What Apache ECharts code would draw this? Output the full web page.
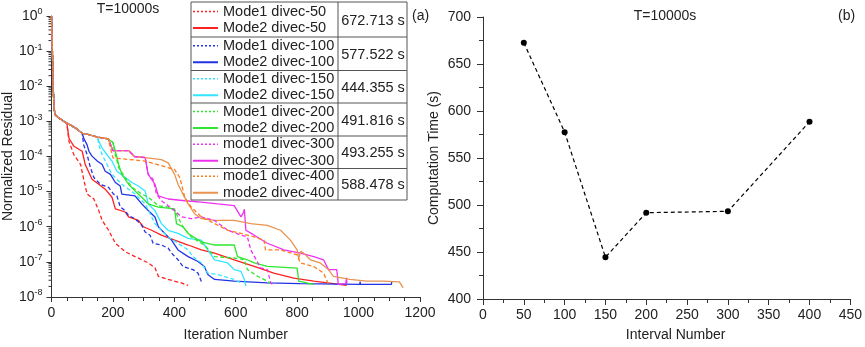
<!DOCTYPE html>
<html>
<head>
<meta charset="utf-8">
<script src="https://cdn.jsdelivr.net/npm/echarts@6/dist/echarts.min.js"></script>
<style>
html, body { margin: 0; padding: 0; background: #fff; }
#main { width: 865px; height: 347px; }
</style>
</head>
<body>
<div id="main"></div>
<script>
// residual curves, points are [iteration, log10(normalized residual)]
var head = [[0,0],[2,-0.6],[4,-1.4],[6,-2.1],[8,-2.55],[11,-2.8],[20,-2.88],[35,-2.97],[50,-3.05]];
var mid100 = [[65,-3.12],[80,-3.2],[100,-3.34]];
var mid150 = [[115,-3.36],[130,-3.4],[150,-3.45]];
var mid200 = [[165,-3.47],[185,-3.5]];
var mid300 = [[200,-3.83],[251,-3.83],[270,-4.0],[305,-4.03]];

var m1_50 = [[57,-3.57],[73,-3.95],[95,-4.23],[105,-4.65],[116,-5.07],[138,-5.21],[154,-5.54],[165,-5.82],[186,-6.1],[208,-6.47],[240,-6.71],[272,-6.85],[294,-6.94],[315,-7.03],[337,-7.17],[348,-7.41],[380,-7.5],[423,-7.6],[445,-7.67]];
var m2_50 = [[57,-3.48],[73,-3.71],[100,-3.85],[110,-4.23],[132,-4.65],[154,-4.79],[175,-4.93],[197,-5.16],[208,-5.49],[240,-5.58],[251,-5.72],[283,-5.82],[299,-6.0],[326,-6.1],[358,-6.24],[401,-6.38],[445,-6.52],[488,-6.66],[531,-6.75],[595,-6.94],[660,-7.13],[724,-7.32],[789,-7.46],[854,-7.55],[918,-7.62],[961,-7.67]];
var m1_100 = [[105,-3.67],[116,-3.95],[127,-4.32],[138,-4.6],[159,-4.79],[186,-4.88],[202,-5.07],[213,-5.12],[224,-5.44],[240,-5.54],[251,-5.68],[272,-5.77],[294,-5.96],[305,-6.15],[321,-6.24],[331,-6.47],[358,-6.52],[380,-6.61],[391,-6.75],[412,-6.94],[428,-7.13],[461,-7.22],[477,-7.32],[490,-7.6]];
var m2_100 = [[105,-3.48],[116,-3.67],[122,-3.85],[132,-3.99],[149,-4.13],[165,-4.23],[175,-4.42],[192,-4.51],[208,-4.74],[224,-4.84],[229,-5.07],[272,-5.12],[294,-5.35],[315,-5.54],[337,-5.72],[348,-6.0],[369,-6.19],[391,-6.38],[412,-6.66],[445,-6.85],[477,-6.99],[498,-7.13],[509,-7.36],[531,-7.5],[595,-7.55],[703,-7.6],[810,-7.62],[1004,-7.64],[1005,-7.56],[1006,-7.64],[1107,-7.64],[1108,-7.55]];
var m1_150 = [[154,-3.67],[165,-3.95],[181,-4.23],[197,-4.51],[213,-4.65],[229,-4.79],[251,-4.93],[272,-5.07],[305,-5.35],[321,-5.63],[337,-5.91],[358,-6.1],[380,-6.29],[412,-6.47],[445,-6.66],[461,-6.85],[488,-7.03],[509,-7.32],[541,-7.36],[595,-7.5],[617,-7.6]];
var m2_150 = [[154,-3.57],[165,-3.76],[181,-3.95],[197,-4.13],[213,-4.42],[240,-4.6],[262,-4.74],[283,-4.84],[305,-4.98],[315,-5.35],[337,-5.54],[358,-5.91],[380,-6.1],[412,-6.19],[445,-6.33],[488,-6.38],[509,-6.66],[531,-6.94],[574,-7.03],[595,-7.22],[617,-7.27],[628,-7.5],[633,-7.69]];
var m1_200 = [[200,-3.6],[208,-3.95],[219,-4.32],[240,-4.6],[262,-4.88],[294,-5.07],[315,-5.16],[348,-5.4],[380,-5.44],[401,-5.54],[412,-5.72],[428,-6.0],[455,-6.29],[498,-6.52],[531,-6.85],[595,-6.89],[628,-6.94],[638,-7.22],[671,-7.41],[703,-7.55],[714,-7.62]];
var m2_200 = [[200,-3.6],[208,-3.85],[219,-4.23],[229,-4.51],[251,-4.79],[272,-4.98],[294,-5.16],[315,-5.35],[348,-5.44],[401,-5.49],[407,-5.91],[428,-6.0],[445,-6.19],[488,-6.43],[531,-6.52],[595,-6.52],[606,-6.85],[638,-6.94],[660,-7.03],[703,-7.13],[800,-7.18],[805,-7.55],[854,-7.64]];
var m1_300 = [[315,-4.51],[331,-4.65],[342,-5.07],[358,-5.26],[380,-5.4],[401,-5.54],[423,-5.72],[455,-5.77],[488,-5.72],[531,-5.82],[574,-6.1],[617,-6.24],[638,-6.29],[649,-6.66],[681,-7.17],[703,-7.22],[714,-7.6],[720,-7.64]];
var m2_300 = [[315,-4.51],[337,-4.79],[348,-5.12],[380,-5.21],[434,-5.26],[488,-5.3],[541,-5.35],[595,-5.4],[617,-5.72],[625,-5.6],[628,-5.5],[633,-6.1],[660,-6.24],[703,-6.47],[757,-6.66],[810,-6.75],[854,-6.85],[886,-6.94],[902,-7.22],[929,-7.22],[934,-7.64],[958,-7.62],[961,-7.45],[962,-7.62]];
var m1_400 = [[200,-4.04],[305,-4.13],[401,-4.37],[418,-4.6],[434,-5.16],[455,-5.44],[488,-5.72],[531,-5.91],[574,-6.1],[617,-6.19],[660,-6.29],[692,-6.38],[697,-6.66],[746,-6.66],[800,-6.8],[810,-7.03],[854,-7.13],[886,-7.32],[902,-7.64]];
var m2_400 = [[358,-4.09],[380,-4.18],[401,-4.51],[412,-4.79],[428,-5.07],[445,-5.35],[466,-5.63],[488,-5.77],[531,-5.82],[595,-5.82],[649,-5.91],[703,-5.96],[746,-6.1],[778,-6.38],[800,-6.66],[805,-6.9],[812,-6.7],[821,-6.75],[843,-6.94],[875,-7.03],[902,-7.22],[918,-7.41],[972,-7.5],[1026,-7.55],[1080,-7.55],[1133,-7.57],[1145,-7.74]];

// panel (b)
var intervals = [50, 100, 150, 200, 300, 400];
var compTime = [672.713, 577.522, 444.355, 491.816, 493.255, 588.478];

var FONT = 'Liberation Sans';
var colors = ['#ff2020', '#2233e6', '#33e6ff', '#2ee62e', '#f030f0', '#ff7a1a'];
var solidOrange = '#e89450';

var curves = [
    {name: 'Mode1 divec-50',  pts: head.concat(m1_50), c: colors[0], dash: true},
    {name: 'Mode2 divec-50',  pts: head.concat(m2_50), c: colors[0]},
    {name: 'Mode1 divec-100', pts: head.concat(mid100, m1_100), c: colors[1], dash: true},
    {name: 'Mode2 divec-100', pts: head.concat(mid100, m2_100), c: colors[1]},
    {name: 'Mode1 divec-150', pts: head.concat(mid100, mid150, m1_150), c: colors[2], dash: true},
    {name: 'Mode2 divec-150', pts: head.concat(mid100, mid150, m2_150), c: colors[2]},
    {name: 'Mode1 divec-200', pts: head.concat(mid100, mid150, mid200, m1_200), c: colors[3], dash: true},
    {name: 'mode2 divec-200', pts: head.concat(mid100, mid150, mid200, m2_200), c: colors[3]},
    {name: 'mode1 divec-300', pts: head.concat(mid100, mid150, mid200, mid300, m1_300), c: colors[4], dash: true},
    {name: 'mode2 divec-300', pts: head.concat(mid100, mid150, mid200, mid300, m2_300), c: colors[4]},
    {name: 'mode1 divec-400', pts: head.concat(mid100, mid150, mid200, m1_400), c: colors[5], dash: true},
    {name: 'mode2 divec-400', pts: head.concat(mid100, mid150, mid200, mid300, m2_400), c: solidOrange}
];

var series = curves.map(function (cv) {
    return {
        name: cv.name,
        type: 'line',
        xAxisIndex: 0,
        yAxisIndex: 0,
        showSymbol: false,
        z: cv.dash ? 3 : 2,
        lineStyle: {color: cv.c, width: 1.3, type: cv.dash ? [4, 2.5] : 'solid'},
        data: cv.pts.map(function (p) { return [p[0], Math.pow(10, p[1])]; })
    };
});
series.push({
    name: 'time',
    type: 'line',
    xAxisIndex: 1,
    yAxisIndex: 1,
    symbol: 'circle',
    symbolSize: 6,
    itemStyle: {color: '#000'},
    lineStyle: {color: '#000', width: 1.2, type: [4, 3]},
    data: intervals.map(function (x, i) { return [x, compTime[i]]; })
});

// legend table drawn as graphic
var boxL = 191, boxR = 407, boxDiv = 338;
var rowEdges = [2, 37, 70.5, 103, 136, 168.5, 200];
var graphics = [{
    type: 'rect', z: 100,
    shape: {x: boxL, y: rowEdges[0], width: boxR - boxL, height: rowEdges[6] - rowEdges[0]},
    style: {fill: '#fff', stroke: '#555', lineWidth: 1}
}, {
    type: 'line', z: 101,
    shape: {x1: boxDiv, y1: rowEdges[0], x2: boxDiv, y2: rowEdges[6]},
    style: {stroke: '#555', lineWidth: 1}
}];
rowEdges.slice(0, 6).forEach(function (rTop, g) {
    var rMid = (rTop + rowEdges[g + 1]) / 2;
    if (g > 0) {
        graphics.push({type: 'line', z: 101,
            shape: {x1: boxL, y1: rTop, x2: boxR, y2: rTop},
            style: {stroke: '#555', lineWidth: 1}});
    }
    [0, 1].forEach(function (j) {
        var cv = curves[g * 2 + j];
        var yy = rMid + (j === 0 ? -8 : 8.5);
        var st = {stroke: cv.c, lineWidth: cv.dash ? 1.5 : 2};
        if (cv.dash) st.lineDash = [2, 2];
        graphics.push({type: 'line', z: 102,
            shape: {x1: 193, y1: yy, x2: 218, y2: yy}, style: st});
        graphics.push({type: 'text', z: 102, x: 223, y: yy,
            style: {text: cv.name, font: '14.5px ' + FONT, fill: '#222', verticalAlign: 'middle'}});
    });
    graphics.push({type: 'text', z: 102, x: 373, y: rMid + 1,
        style: {text: compTime[g].toFixed(3) + ' s', font: '14.5px ' + FONT, fill: '#222',
            align: 'center', verticalAlign: 'middle'}});
});
graphics.push({type: 'text', x: 412, y: 16,
    style: {text: '(a)', font: '14px ' + FONT, fill: '#222', verticalAlign: 'middle'}});
graphics.push({type: 'text', x: 838, y: 16,
    style: {text: '(b)', font: '14px ' + FONT, fill: '#222', verticalAlign: 'middle'}});
graphics.push({type: 'text', x: 128, y: 9,
    style: {text: 'T=10000s', font: '14px ' + FONT, fill: '#222', align: 'center', verticalAlign: 'middle'}});
graphics.push({type: 'text', x: 665, y: 16,
    style: {text: 'T=10000s', font: '14px ' + FONT, fill: '#222', align: 'center', verticalAlign: 'middle'}});

var axisTxt = {color: '#222', fontSize: 14, fontFamily: FONT};
var axLine = {show: true, lineStyle: {color: '#333', width: 1}};
var plain = function (v) { return String(v); };

var option = {
    backgroundColor: '#fff',
    animation: false,
    grid: [
        {left: 49, right: 445, top: 16, bottom: 45},
        {left: 483, right: 8, top: 17, bottom: 46}
    ],
    xAxis: [{
        gridIndex: 0, type: 'value', min: 0, max: 1200, interval: 200,
        name: 'Iteration Number', nameLocation: 'middle', nameGap: 31, nameTextStyle: axisTxt,
        axisLine: axLine,
        axisTick: {length: 5, lineStyle: {color: '#333'}},
        minorTick: {show: true, splitNumber: 4, length: 4, lineStyle: {color: '#333'}},
        axisLabel: {margin: 9, color: '#222', fontSize: 14, fontFamily: FONT, formatter: plain},
        splitLine: {show: false}
    }, {
        gridIndex: 1, type: 'value', min: 0, max: 450, interval: 50,
        name: 'Interval Number', nameLocation: 'middle', nameGap: 29,
        nameTextStyle: {color: '#222', fontSize: 14, fontFamily: FONT, padding: [0, 0, 0, 18]},
        axisLine: axLine,
        axisTick: {length: 6, lineStyle: {color: '#333'}},
        minorTick: {show: true, splitNumber: 2, length: 4, lineStyle: {color: '#333'}},
        axisLabel: {margin: 9, color: '#222', fontSize: 14, fontFamily: FONT, formatter: plain},
        splitLine: {show: false}
    }],
    yAxis: [{
        gridIndex: 0, type: 'log', logBase: 10, min: 1e-8, max: 1,
        name: 'Normalized Residual', nameLocation: 'middle', nameGap: 34, nameTextStyle: axisTxt,
        axisLine: axLine,
        axisTick: {length: 5, lineStyle: {color: '#333'}},
        axisLabel: {
            margin: 9, color: '#222', fontSize: 14, fontFamily: FONT,
            formatter: function (v) { return '10{s|' + Math.round(Math.log10(v)) + '}'; },
            rich: {s: {fontSize: 9, fontFamily: FONT, color: '#222', verticalAlign: 'top', padding: [0, 0, 8, 0]}}
        },
        splitLine: {show: false}
    }, {
        gridIndex: 1, type: 'value', min: 400, max: 700, interval: 50,
        name: 'Computation Time (s)', nameLocation: 'middle', nameGap: 42, nameTextStyle: axisTxt,
        axisLine: axLine,
        axisTick: {length: 6, lineStyle: {color: '#333'}},
        minorTick: {show: true, splitNumber: 2, length: 4, lineStyle: {color: '#333'}},
        axisLabel: {margin: 12, color: '#222', fontSize: 14, fontFamily: FONT},
        splitLine: {show: false}
    }],
    series: series,
    graphic: graphics
};

var chart = echarts.init(document.getElementById('main'));
chart.setOption(option);

// minor ticks of the log axis (2..9 in every decade), placed through the axis scale
var minorVals = [];
for (var ex = -8; ex < 0; ex++) {
    for (var k = 2; k <= 9; k++) minorVals.push(k * Math.pow(10, ex));
}
var x0 = chart.convertToPixel({xAxisIndex: 0}, 0);
var tickEls = minorVals.map(function (v) {
    var y = chart.convertToPixel({yAxisIndex: 0}, v);
    return {type: 'line', shape: {x1: x0 - 3, y1: y, x2: x0, y2: y}, style: {stroke: '#333', lineWidth: 1}};
});
chart.setOption({graphic: graphics.concat(tickEls)});
</script>
</body>
</html>
